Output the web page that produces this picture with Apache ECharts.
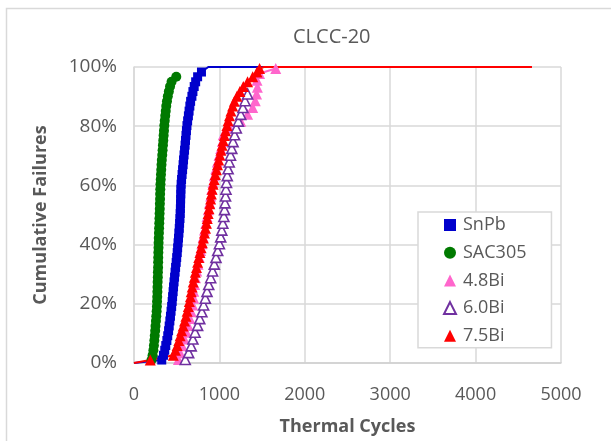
<!DOCTYPE html>
<html>
<head>
<meta charset="utf-8">
<script src="https://cdn.jsdelivr.net/npm/echarts@6/dist/echarts.min.js"></script>
<style>
html,body{margin:0;padding:0;background:#fff;}
#chart{width:611px;height:441px;}
</style>
</head>
<body>
<div id="chart"></div>
<script>
// ---- data ----
const chartTitle = 'CLCC-20';
const xAxisTitle = 'Thermal Cycles';
const yAxisTitle = 'Cumulative Failures';
const seriesNames = ['SnPb', 'SAC305', '4.8Bi', '6.0Bi', '7.5Bi'];
const xTicks = [0, 1000, 2000, 3000, 4000, 5000];
const yTicks = [0, 20, 40, 60, 80, 100];

const densePct = [1.0,2.6,4.3,5.9,7.6,9.2,10.9,12.5,14.2,15.8,17.5,19.1,20.8,22.4,24.1,25.7,27.4,29.0,30.7,32.3,34.0,35.6,37.3,38.9,40.6,42.2,43.9,45.5,47.2,48.8,50.5,52.1,53.8,55.4,57.1,58.7,60.4,62.0,63.7,65.3,67.0,68.6,70.3,71.9,73.6,75.2,76.9,78.5,80.2,81.8,83.5,85.1,86.8,88.4,90.1,91.7,93.4,95.0,96.7,98.3];

const snpbCycles = [325,345,360,372,385,395,405,412,420,427,434,441,447,452,458,463,469,475,481,487,494,500,506,511,516,521,526,530,534,538,541,543,545,546,548,549,552,557,563,569,575,580,586,592,598,603,609,614,620,628,637,645,654,663,678,690,705,722,745,790];
const snpbPct = densePct;
const snpbHeadCycles = [0, 325];
const snpbHeadPct = [0, 1.0];
const snpbTailCycles = [790, 870, 4660];
const snpbTailPct = [98.3, 100, 100];

const sacCycles = [205,218,227,233,238,243,248,252,257,261,265,268,270,272,274,275,277,279,280,282,283,284,285,287,288,290,292,294,296,298,300,302,303,305,306,308,310,313,316,319,322,326,331,335,339,343,347,351,355,360,366,372,378,386,396,408,422,440,495];
const sacPct = [1.0,2.6,4.3,5.9,7.6,9.2,10.9,12.5,14.2,15.8,17.5,19.1,20.8,22.4,24.1,25.7,27.4,29.0,30.7,32.3,34.0,35.6,37.3,38.9,40.6,42.2,43.9,45.5,47.2,48.8,50.5,52.1,53.8,55.4,57.1,58.7,60.4,62.0,63.7,65.3,67.0,68.6,70.3,71.9,73.6,75.2,76.9,78.5,80.2,81.8,83.5,85.1,86.8,88.4,90.1,91.7,93.4,95.0,96.7];

const bi48Cycles = [520,540,565,590,615,635,655,672,688,700,700,710,720,735,750,765,780,795,810,825,840,855,870,885,898,910,925,940,958,975,995,1015,1035,1045,1120,1250,1330,1390,1420,1435,1445,1440,1470,1660];
const bi48Pct = [1.2,3.5,5.8,8.1,10.4,12.7,15.0,17.3,19.6,21.9,24.2,26.5,28.8,31.1,33.4,35.7,38.0,40.3,42.6,44.9,47.2,49.5,51.8,54.1,56.4,58.7,61.0,63.3,65.6,67.9,70.2,72.5,74.8,77.1,79.4,81.7,84.0,86.3,88.6,90.9,93.2,95.5,97.8,99.5];
const bi48TailCycles = [1660, 1700, 4660];
const bi48TailPct = [99.5, 100, 100];

const bi60Cycles = [600,640,670,690,715,745,770,795,815,835,855,875,898,920,940,960,980,1000,1015,1028,1040,1052,1060,1066,1072,1077,1083,1092,1102,1115,1130,1145,1160,1178,1198,1222,1250,1275,1300,1330];
const bi60Pct = [1.2,3.5,5.8,8.1,10.4,12.7,15.0,17.3,19.6,21.9,24.2,26.5,28.8,31.1,33.4,35.7,38.0,40.3,42.6,44.9,47.2,49.5,51.8,54.1,56.4,58.7,61.0,63.3,65.6,67.9,70.2,72.5,74.8,77.1,79.4,81.7,84.0,86.3,88.6,90.9];

const bi75Cycles = [190,460,485,505,525,540,558,575,592,608,622,636,648,660,670,681,693,706,718,732,745,758,772,786,800,812,825,837,848,858,868,878,888,897,906,915,926,938,952,965,978,992,1005,1018,1031,1044,1058,1072,1088,1102,1118,1135,1155,1175,1205,1240,1280,1330,1390,1440,1470];
const bi75Pct = [1.0,2.6,4.3,5.9,7.6,9.2,10.9,12.5,14.2,15.8,17.5,19.1,20.8,22.4,24.1,25.7,27.4,29.0,30.7,32.3,34.0,35.6,37.3,38.9,40.6,42.2,43.9,45.5,47.2,48.8,50.5,52.1,53.8,55.4,57.1,58.7,60.4,62.0,63.7,65.3,67.0,68.6,70.3,71.9,73.6,75.2,76.9,78.5,80.2,81.8,83.5,85.1,86.8,88.4,90.1,91.7,93.4,95.0,96.7,98.3,99.5];
const bi75HeadCycles = [0, 190];
const bi75HeadPct = [0, 1.0];
const bi75TailCycles = [1470, 1520, 4660];
const bi75TailPct = [99.5, 100, 100];

// ---- helpers ----
function pairs(xs, ys){ return xs.map((x,i)=>[x, ys[i]]); }
const FONT = 'Open Sans';
const TXT = '#595959';

function mainSeries(name, xs, ys, color, symbol, size, hollow){
  return {
    name: name, type: 'line', data: pairs(xs, ys),
    symbol: symbol, symbolSize: size, showSymbol: true,
    lineStyle: {color: color, width: 2},
    itemStyle: hollow ? {color: '#ffffff', borderColor: color, borderWidth: 1.6}
                      : {color: color, borderColor: color, borderWidth: 0},
    emphasis: {disabled: true}, silent: true
  };
}
function plainLine(name, xs, ys, color){
  return {
    name: name, type: 'line', data: pairs(xs, ys), showSymbol: false, symbol: 'none',
    lineStyle: {color: color, width: 2}, itemStyle: {color: color},
    emphasis: {disabled: true}, silent: true
  };
}

const cBlue = '#0000CC', cGreen = '#007A00', cPink = '#FF66CC', cPurple = '#7030A0', cRed = '#FF0000';

const option = {
  animation: false,
  backgroundColor: '#ffffff',
  title: {
    text: chartTitle, left: 288, top: 22,
    textStyle: {fontFamily: FONT, fontSize: 20, fontWeight: 'normal', color: TXT}
  },
  graphic: [{
    type: 'rect', silent: true, z: -10,
    shape: {x: 6.5, y: 8.5, width: 700, height: 500},
    style: {fill: 'none', stroke: '#d9d9d9', lineWidth: 1.5}
  }],
  grid: {left: 134, right: 50, top: 67, bottom: 78},
  legend: {
    data: [
      {name: seriesNames[0], icon: 'rect'},
      {name: seriesNames[1], icon: 'circle'},
      {name: seriesNames[2], icon: 'triangle'},
      {name: seriesNames[3], icon: 'triangle'},
      {name: seriesNames[4], icon: 'triangle'}
    ],
    orient: 'vertical', left: 418, top: 212,
    padding: [4, 25, 3, 25],
    itemWidth: 12, itemHeight: 12, itemGap: 9.7,
    backgroundColor: '#ffffff',
    borderColor: '#d9d9d9', borderWidth: 1.5,
    textStyle: {fontFamily: FONT, fontSize: 18, color: TXT, lineHeight: 18, padding: [0,0,0,2]}
  },
  xAxis: {
    type: 'value', min: xTicks[0], max: xTicks[xTicks.length-1], interval: 1000,
    name: xAxisTitle, nameLocation: 'middle', nameGap: 55,
    nameTextStyle: {fontFamily: FONT, fontSize: 18, fontWeight: 'bold', color: TXT},
    axisLine: {show: true, lineStyle: {color: '#d0d0d0', width: 1.5}},
    axisTick: {show: false},
    axisLabel: {fontFamily: FONT, fontSize: 18, color: TXT, margin: 23, formatter: function(v){ return String(v); }},
    splitLine: {show: true, lineStyle: {color: '#d9d9d9', width: 1.5}}
  },
  yAxis: {
    type: 'value', min: yTicks[0], max: yTicks[yTicks.length-1], interval: 20,
    name: yAxisTitle, nameLocation: 'middle', nameGap: 84, nameRotate: 90,
    nameTextStyle: {fontFamily: FONT, fontSize: 18, fontWeight: 'bold', color: TXT},
    axisLine: {show: true, lineStyle: {color: '#d9d9d9', width: 1.5}},
    axisTick: {show: false},
    axisLabel: {fontFamily: FONT, fontSize: 19, color: TXT, margin: 17, formatter: '{value}%'},
    splitLine: {show: true, lineStyle: {color: '#d9d9d9', width: 1.5}}
  },
  series: [
    plainLine('SnPb-head', snpbHeadCycles, snpbHeadPct, cBlue),
    plainLine('SnPb-tail', snpbTailCycles, snpbTailPct, cBlue),
    mainSeries(seriesNames[0], snpbCycles, snpbPct, cBlue, 'rect', 9, false),
    mainSeries(seriesNames[1], sacCycles, sacPct, cGreen, 'circle', 10, false),
    plainLine('4.8Bi-tail', bi48TailCycles, bi48TailPct, cPink),
    mainSeries(seriesNames[2], bi48Cycles, bi48Pct, cPink, 'triangle', 11, false),
    mainSeries(seriesNames[3], bi60Cycles, bi60Pct, cPurple, 'triangle', 10, true),
    plainLine('7.5Bi-head', bi75HeadCycles, bi75HeadPct, cRed),
    plainLine('7.5Bi-tail', bi75TailCycles, bi75TailPct, cRed),
    mainSeries(seriesNames[4], bi75Cycles, bi75Pct, cRed, 'triangle', 11, false)
  ]
};

const chart = echarts.init(document.getElementById('chart'), null, {renderer: 'canvas'});
chart.setOption(option);
</script>
</body>
</html>
